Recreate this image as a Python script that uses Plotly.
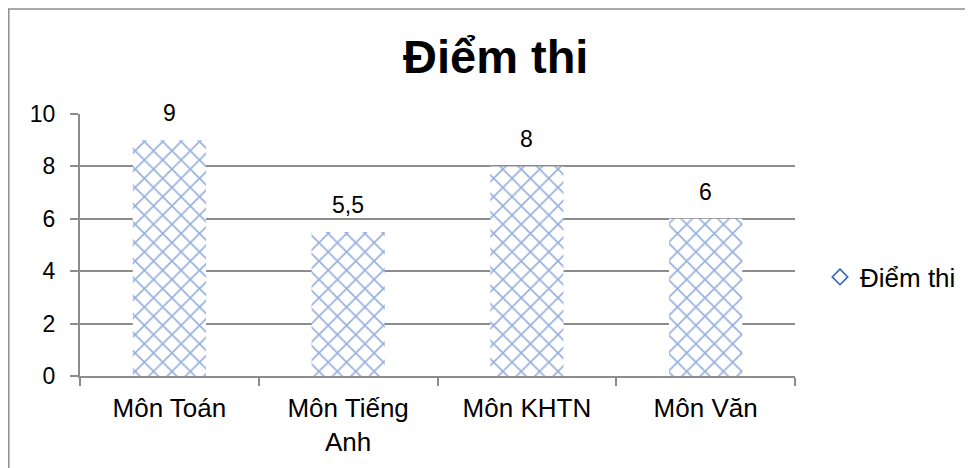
import plotly.graph_objects as go

categories = ["Môn Toán", "Môn Tiếng<br>Anh", "Môn KHTN", "Môn Văn"]
values = [9, 5.5, 8, 6]
value_labels = ["9", "5,5", "8", "6"]
series_name = "Điểm thi"
y_ticks = [0, 2, 4, 6, 8, 10]

W, H = 973, 468
OFF = 8  # page body margin offset
# desired screen-pixel plot area
SX0, SX1, SY0, SY1 = 80, 795, 114, 376
L = SX0 - OFF
T = SY0 - OFF
R = W - (SX1 - OFF)
B = H - (SY1 - OFF)
pw, ph = SX1 - SX0, SY1 - SY0

def px_x(p):
    return (p - SX0) / pw

def px_y(p):
    return (SY1 - p) / ph

FONT = "Liberation Sans, Arial, sans-serif"
GRID = "#8c8c8c"
BLUE = "#2E62BE"

fig = go.Figure()
fig.add_trace(go.Bar(
    x=categories, y=values, width=0.41, showlegend=False,
    marker=dict(color="white", line=dict(width=0),
                pattern=dict(shape="x", fgcolor=BLUE, bgcolor="white",
                             size=13, solidity=0.24, fillmode="overlay")),
))
fig.add_trace(go.Scatter(
    x=[None], y=[None], mode="markers", name=series_name,
    marker=dict(symbol="diamond-open", size=12, color=BLUE, line=dict(width=1.5, color=BLUE)),
))

for c, v, t in zip(categories, values, value_labels):
    fig.add_annotation(x=c, y=v, text=t, showarrow=False, yanchor="bottom",
                       yshift=12, font=dict(family=FONT, size=23, color="black"))

fig.add_annotation(xref="paper", yref="paper", x=px_x(495), y=px_y(57),
                   text="<b>Điểm thi</b>", showarrow=False, xanchor="center",
                   yanchor="middle", font=dict(family=FONT, size=47, color="black"))

fig.add_shape(type="line", xref="paper", yref="paper", x0=px_x(8), x1=px_x(990),
              y0=px_y(9), y1=px_y(9), line=dict(color=GRID, width=1.5))
fig.add_shape(type="line", xref="paper", yref="paper", x0=px_x(8.8), x1=px_x(8.8),
              y0=px_y(9), y1=px_y(490), line=dict(color=GRID, width=1.5))

fig.update_layout(
    width=W, height=H, margin=dict(l=L, r=R, t=T, b=B, autoexpand=False),
    paper_bgcolor="white", plot_bgcolor="white",
    font=dict(family=FONT, size=23, color="black"),
    legend=dict(x=px_x(820), y=px_y(277), xanchor="left", yanchor="middle",
                font=dict(family=FONT, size=26), itemwidth=30,
                bgcolor="rgba(0,0,0,0)"),
)
fig.update_xaxes(type="category", showline=True, linecolor=GRID, linewidth=2,
                 ticks="outside", tickson="boundaries", ticklen=8, tickwidth=2,
                 tickcolor=GRID, showgrid=False, ticklabelstandoff=8,
                 tickfont=dict(family=FONT, size=26))
fig.update_yaxes(range=[0, 10], tickvals=y_ticks, showgrid=True, gridcolor=GRID,
                 gridwidth=2, showline=True, linecolor=GRID, linewidth=2,
                 ticks="outside", ticklen=8, tickwidth=2, tickcolor=GRID,
                 zeroline=False, ticklabelstandoff=10, tickfont=dict(family=FONT, size=23))

fig.write_html("out.html")
